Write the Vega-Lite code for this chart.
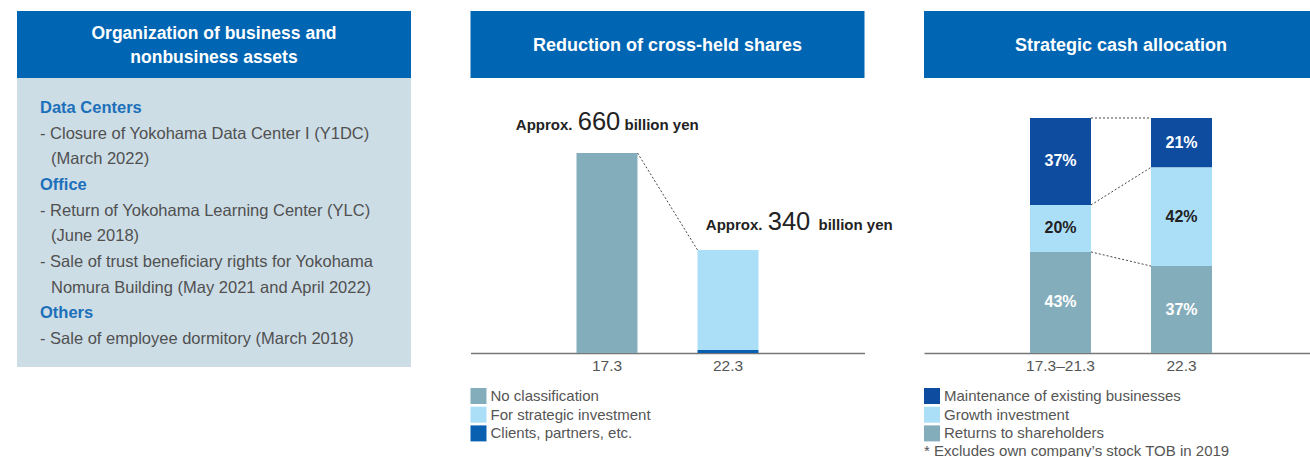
{
  "$schema": "https://vega.github.io/schema/vega-lite/v6.json",
  "padding": {"left": 17, "top": 11, "right": 0, "bottom": 0},
  "background": "white",
  "spacing": 0,
  "config": {
    "font": "Liberation Sans",
    "view": {"stroke": null},
    "axis": {"grid": false},
    "legend": {
      "orient": "none",
      "legendX": 0,
      "legendY": 310,
      "symbolType": "square",
      "symbolSize": 256,
      "symbolStrokeWidth": 0,
      "symbolOpacity": 1,
      "labelFontSize": 15,
      "labelColor": "#555555",
      "labelOffset": 4,
      "rowPadding": 2.7,
      "labelLimit": 500
    }
  },
  "datasets": {
    "headers": [
      {"panel": "assets", "title": ["Organization of business and", "nonbusiness assets"]},
      {"panel": "shares", "title": "Reduction of cross-held shares"},
      {"panel": "cash", "title": "Strategic cash allocation"}
    ],
    "assets": [
      {"line": 1, "kind": "heading", "indent": "none", "text": "Data Centers"},
      {"line": 2, "kind": "body", "indent": "none", "text": "- Closure of Yokohama Data Center I (Y1DC)"},
      {"line": 3, "kind": "body", "indent": "hang", "text": "(March 2022)"},
      {"line": 4, "kind": "heading", "indent": "none", "text": "Office"},
      {"line": 5, "kind": "body", "indent": "none", "text": "- Return of Yokohama Learning Center (YLC)"},
      {"line": 6, "kind": "body", "indent": "hang", "text": "(June 2018)"},
      {"line": 7, "kind": "body", "indent": "none", "text": "- Sale of trust beneficiary rights for Yokohama"},
      {"line": 8, "kind": "body", "indent": "hang", "text": "Nomura Building (May 2021 and April 2022)"},
      {"line": 9, "kind": "heading", "indent": "none", "text": "Others"},
      {"line": 10, "kind": "body", "indent": "none", "text": "- Sale of employee dormitory (March 2018)"}
    ],
    "shares": [
      {"year": "17.3", "category": "No classification", "amount": 660, "rank": 3},
      {"year": "22.3", "category": "For strategic investment", "amount": 330, "rank": 2},
      {"year": "22.3", "category": "Clients, partners, etc.", "amount": 10, "rank": 1}
    ],
    "shareTotals": [
      {"year": "17.3", "total": 660, "prefix": "Approx.", "unit": "billion yen"},
      {"year": "22.3", "total": 340, "prefix": "Approx.", "unit": "billion yen"}
    ],
    "shareLink": [
      {"from": "17.3", "to": "22.3", "start": 660, "end": 340}
    ],
    "cash": [
      {"period": "17.3–21.3", "category": "Returns to shareholders", "share": 0.43, "rank": 1},
      {"period": "17.3–21.3", "category": "Growth investment", "share": 0.20, "rank": 2},
      {"period": "17.3–21.3", "category": "Maintenance of existing businesses", "share": 0.37, "rank": 3},
      {"period": "22.3", "category": "Returns to shareholders", "share": 0.37, "rank": 1},
      {"period": "22.3", "category": "Growth investment", "share": 0.42, "rank": 2},
      {"period": "22.3", "category": "Maintenance of existing businesses", "share": 0.21, "rank": 3}
    ],
    "cashLinks": [
      {"from": "17.3–21.3", "to": "22.3", "start": 1.0, "end": 1.0},
      {"from": "17.3–21.3", "to": "22.3", "start": 0.63, "end": 0.79},
      {"from": "17.3–21.3", "to": "22.3", "start": 0.43, "end": 0.37}
    ]
  },
  "vconcat": [
    {
      "hconcat": [
        {
          "width": 394,
          "height": 67,
          "view": {"fill": "#0066b3", "stroke": null},
          "data": {"name": "headers"},
          "transform": [{"filter": "datum.panel === 'assets'"}],
          "mark": {"type": "text", "color": "white", "fontSize": 17.5, "fontWeight": "bold", "lineHeight": 24, "baseline": "middle", "align": "center", "dy": -10.5},
          "encoding": {"text": {"field": "title", "type": "nominal"}}
        },
        {
          "width": 394,
          "height": 67,
          "view": {"fill": "#0066b3", "stroke": null},
          "data": {"name": "headers"},
          "transform": [{"filter": "datum.panel === 'shares'"}],
          "mark": {"type": "text", "color": "white", "fontSize": 18, "fontWeight": "bold", "baseline": "middle", "align": "center", "dy": 1},
          "encoding": {"text": {"field": "title", "type": "nominal"}}
        },
        {
          "width": 394,
          "height": 67,
          "view": {"fill": "#0066b3", "stroke": null},
          "data": {"name": "headers"},
          "transform": [{"filter": "datum.panel === 'cash'"}],
          "mark": {"type": "text", "color": "white", "fontSize": 18, "fontWeight": "bold", "baseline": "middle", "align": "center", "dy": 1},
          "encoding": {"text": {"field": "title", "type": "nominal"}}
        }
      ],
      "spacing": 59.5,
      "bounds": "flush"
    },
    {
      "hconcat": [
        {
          "width": 394,
          "height": 289,
          "view": {"fill": "#cddde6", "stroke": null},
          "data": {"name": "assets"},
          "encoding": {
            "y": {"field": "line", "type": "quantitative", "scale": {"domain": [-0.169, 11.09], "reverse": true, "zero": false, "nice": false}, "axis": null},
            "x": {"field": "indent", "type": "ordinal", "scale": {"type": "point", "domain": ["none", "hang"], "range": [23, 34], "padding": 0}, "axis": null},
            "text": {"field": "text", "type": "nominal"}
          },
          "layer": [
            {
              "transform": [{"filter": "datum.kind === 'heading'"}],
              "mark": {"type": "text", "align": "left", "baseline": "middle", "fontSize": 16.5, "fontWeight": "bold", "color": "#1c70ba"}
            },
            {
              "transform": [{"filter": "datum.kind === 'body'"}],
              "mark": {"type": "text", "align": "left", "baseline": "middle", "fontSize": 16.5, "color": "#505050"}
            }
          ]
        },
        {
          "width": 394,
          "height": 275,
          "layer": [
            {
              "data": {"name": "shares"},
              "mark": {"type": "bar"},
              "encoding": {
                "x": {"field": "year", "type": "nominal", "sort": ["17.3", "22.3"], "scale": {"paddingInner": 0.496, "paddingOuter": 0.876},
                  "axis": {"title": null, "labelAngle": 0, "ticks": false, "domainColor": "#777777", "domainWidth": 1.5, "labelFontSize": 15.5, "labelColor": "#555555", "labelPadding": 5}},
                "y": {"field": "amount", "type": "quantitative", "stack": "zero", "scale": {"domain": [0, 907.5], "nice": false}, "axis": null},
                "color": {"field": "category", "type": "nominal",
                  "scale": {"domain": ["No classification", "For strategic investment", "Clients, partners, etc."], "range": ["#84adbb", "#abdff8", "#0a60b0"]},
                  "legend": {"title": null}},
                "order": {"field": "rank", "type": "quantitative"}
              }
            },
            {
              "data": {"name": "shareLink"},
              "mark": {"type": "rule", "strokeDash": [2, 2], "color": "#444444", "strokeWidth": 1},
              "encoding": {
                "x": {"field": "from", "type": "nominal", "bandPosition": 1},
                "x2": {"field": "to", "bandPosition": 0},
                "y": {"field": "start", "type": "quantitative"},
                "y2": {"field": "end"}
              }
            },
            {
              "data": {"name": "shareTotals"},
              "transform": [{"filter": "datum.year === '17.3'"}],
              "mark": {"type": "text", "align": "right", "baseline": "alphabetic", "fontSize": 15, "fontWeight": "bold", "color": "#222222", "dx": -34.5, "dy": -23},
              "encoding": {"x": {"field": "year", "type": "nominal"}, "y": {"field": "total", "type": "quantitative"}, "text": {"field": "prefix"}}
            },
            {
              "data": {"name": "shareTotals"},
              "transform": [{"filter": "datum.year === '17.3'"}],
              "mark": {"type": "text", "align": "center", "baseline": "alphabetic", "fontSize": 25.5, "color": "#222222", "dx": -8, "dy": -23},
              "encoding": {"x": {"field": "year", "type": "nominal"}, "y": {"field": "total", "type": "quantitative"}, "text": {"field": "total", "type": "quantitative"}}
            },
            {
              "data": {"name": "shareTotals"},
              "transform": [{"filter": "datum.year === '17.3'"}],
              "mark": {"type": "text", "align": "left", "baseline": "alphabetic", "fontSize": 15, "fontWeight": "bold", "color": "#222222", "dx": 17.5, "dy": -23},
              "encoding": {"x": {"field": "year", "type": "nominal"}, "y": {"field": "total", "type": "quantitative"}, "text": {"field": "unit"}}
            },
            {
              "data": {"name": "shareTotals"},
              "transform": [{"filter": "datum.year === '22.3'"}],
              "mark": {"type": "text", "align": "right", "baseline": "alphabetic", "fontSize": 15, "fontWeight": "bold", "color": "#222222", "dx": 34.5, "dy": -20},
              "encoding": {"x": {"field": "year", "type": "nominal"}, "y": {"field": "total", "type": "quantitative"}, "text": {"field": "prefix"}}
            },
            {
              "data": {"name": "shareTotals"},
              "transform": [{"filter": "datum.year === '22.3'"}],
              "mark": {"type": "text", "align": "center", "baseline": "alphabetic", "fontSize": 25.5, "color": "#222222", "dx": 61, "dy": -20},
              "encoding": {"x": {"field": "year", "type": "nominal"}, "y": {"field": "total", "type": "quantitative"}, "text": {"field": "total", "type": "quantitative"}}
            },
            {
              "data": {"name": "shareTotals"},
              "transform": [{"filter": "datum.year === '22.3'"}],
              "mark": {"type": "text", "align": "left", "baseline": "alphabetic", "fontSize": 15, "fontWeight": "bold", "color": "#222222", "dx": 90.5, "dy": -20},
              "encoding": {"x": {"field": "year", "type": "nominal"}, "y": {"field": "total", "type": "quantitative"}, "text": {"field": "unit"}}
            }
          ]
        },
        {
          "width": 394,
          "height": 275,
          "layer": [
            {
              "data": {"name": "cash"},
              "mark": {"type": "bar"},
              "encoding": {
                "x": {"field": "period", "type": "nominal", "sort": ["17.3–21.3", "22.3"], "scale": {"paddingInner": 0.496, "paddingOuter": 0.876},
                  "axis": {"title": null, "labelAngle": 0, "ticks": false, "domainColor": "#777777", "domainWidth": 1.5, "labelFontSize": 15.5, "labelColor": "#555555", "labelPadding": 5}},
                "y": {"field": "share", "type": "quantitative", "stack": "zero", "scale": {"domain": [0, 1.1702], "nice": false}, "axis": null},
                "color": {"field": "category", "type": "nominal",
                  "scale": {"domain": ["Maintenance of existing businesses", "Growth investment", "Returns to shareholders"], "range": ["#0d4c9f", "#abdff8", "#84adbb"]},
                  "legend": {"title": "* Excludes own company’s stock TOB in 2019", "titleOrient": "bottom", "titleFontWeight": "normal", "titleFontSize": 15, "titleColor": "#555555", "titlePadding": 3, "titleLimit": 600, "titleAnchor": "start"}},
                "order": {"field": "rank", "type": "quantitative"}
              }
            },
            {
              "data": {"name": "cash"},
              "mark": {"type": "text", "fontSize": 16, "fontWeight": "bold", "baseline": "middle", "align": "center"},
              "encoding": {
                "x": {"field": "period", "type": "nominal"},
                "y": {"field": "share", "type": "quantitative", "stack": "zero", "bandPosition": 0.5},
                "detail": {"field": "category"},
                "order": {"field": "rank", "type": "quantitative"},
                "text": {"field": "share", "type": "quantitative", "format": ".0%"},
                "color": {"condition": {"test": "datum.category === 'Growth investment'", "value": "#222222"}, "value": "white"}
              }
            },
            {
              "data": {"name": "cashLinks"},
              "mark": {"type": "rule", "strokeDash": [2, 2], "color": "#444444", "strokeWidth": 1},
              "encoding": {
                "x": {"field": "from", "type": "nominal", "bandPosition": 1},
                "x2": {"field": "to", "bandPosition": 0},
                "y": {"field": "start", "type": "quantitative"},
                "y2": {"field": "end"}
              }
            }
          ]
        }
      ],
      "spacing": 59.5,
      "bounds": "flush",
      "resolve": {"scale": {"x": "independent", "y": "independent", "color": "independent"}, "legend": {"color": "independent"}, "axis": {"x": "independent"}}
    }
  ]
}
